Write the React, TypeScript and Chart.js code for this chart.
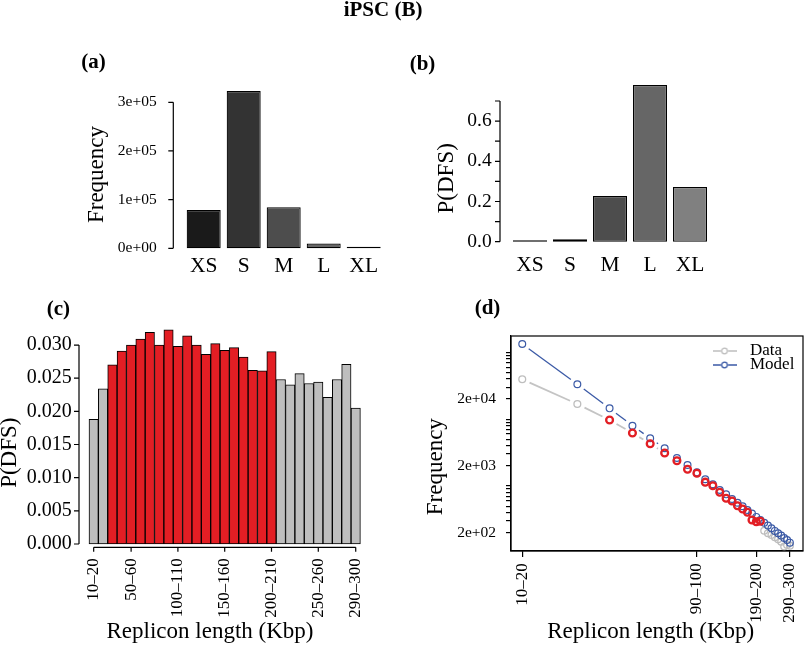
import React, { useEffect, useRef } from 'react';
import { Chart, registerables } from 'chart.js';

Chart.register(...registerables);

// ---------- data ----------
const sizeClasses = ['XS', 'S', 'M', 'L', 'XL'];
const freqBySize = [78600, 323000, 84200, 9800, 800];
const pdfsBySize = [0.002, 0.012, 0.227, 0.779, 0.272];

const freqTickValues = [0, 100000, 200000, 300000];
const freqTickLabels = ['0e+00', '1e+05', '2e+05', '3e+05'];
const pdfsTickValues = [0, 0.1, 0.2, 0.3, 0.4, 0.5, 0.6, 0.7];
const pdfsTickLabels = ['0.0', '', '0.2', '', '0.4', '', '0.6', ''];

const replBins = [
  '10–20', '20–30', '30–40', '40–50', '50–60', '60–70', '70–80', '80–90', '90–100', '100–110',
  '110–120', '120–130', '130–140', '140–150', '150–160', '160–170', '170–180', '180–190', '190–200', '200–210',
  '210–220', '220–230', '230–240', '240–250', '250–260', '260–270', '270–280', '280–290', '290–300',
];
const pdfsByBin = [
  0.0188, 0.0234, 0.0270, 0.0291, 0.0300, 0.0309, 0.0319, 0.0300, 0.0323, 0.0298,
  0.0314, 0.0300, 0.0286, 0.0302, 0.0292, 0.0296, 0.0282, 0.0262, 0.0261, 0.0290,
  0.0248, 0.0240, 0.0257, 0.0242, 0.0244, 0.0221, 0.0248, 0.0271, 0.0205,
];
const highlightFirst = '30–40';
const highlightLast = '200–210';
const binTickLabelsC = ['10–20', '50–60', '100–110', '150–160', '200–210', '250–260', '290–300'];
const pdfsBinTickValues = [0, 0.005, 0.01, 0.015, 0.02, 0.025, 0.03];

const dataFreqByBin = [
  39400, 16800, 9700, 6200, 4290, 3110, 2390, 1780, 1550, 1140,
  1010, 805, 655, 596, 507, 453, 404, 310, 292, 297,
  214, 196, 185, 171, 159, 147, 124, 131, 128,
];
const modelFreqByBin = [
  133000, 33200, 14500, 7980, 5170, 3660, 2620, 2060, 1600, 1260,
  1060, 871, 750, 640, 562, 497, 437, 388, 345, 310,
  282, 256, 233, 213, 196, 181, 167, 155, 142,
];
const binTickLabelsD = ['10–20', '90–100', '190–200', '290–300'];
const logTickValues = [200, 2000, 20000];
const logTickLabels = ['2e+02', '2e+03', '2e+04'];

// ---------- styles ----------
const SERIF = "'Liberation Serif', 'Times New Roman', Times, serif";
const sizeGrays = ['#1a1a1a', '#333333', '#4d4d4d', '#666666', '#808080'];
const RED = '#e31e24';
const GRAY = '#bebebe';
const BLUE = '#3b5aa6';
const GRAY_LINE = '#c4c4c4';

// ---------- helpers ----------
const fixW = (w: number) => (s: any) => {
  s.width = w;
  s.paddingLeft = 0; s.paddingRight = 0; s.paddingTop = 0; s.paddingBottom = 0;
};
const fixH = (h: number) => (s: any) => {
  s.height = h;
  s.paddingLeft = 0; s.paddingRight = 0; s.paddingTop = 0; s.paddingBottom = 0;
};

type TItem = { text: string; x: number; y: number; size: number; bold?: boolean; rot?: number };
const textPlugin = (items: TItem[]) => ({
  id: 'rText',
  afterDraw(chart: any) {
    const ctx = chart.ctx;
    items.forEach((t) => {
      ctx.save();
      ctx.translate(t.x, t.y);
      if (t.rot) ctx.rotate(t.rot);
      ctx.font = `${t.bold ? 'bold ' : ''}${t.size}px ${SERIF}`;
      ctx.fillStyle = '#000';
      ctx.textAlign = 'center';
      ctx.textBaseline = 'middle';
      ctx.fillText(t.text, 0, 0);
      ctx.restore();
    });
  },
});

type AxisSpec = { at: number; values: number[]; len: number };
const rAxesPlugin = (cfg: { left?: AxisSpec; bottom?: AxisSpec; box?: boolean }) => ({
  id: 'rAxes',
  afterDraw(chart: any) {
    const ctx = chart.ctx;
    ctx.save();
    ctx.strokeStyle = '#000';
    ctx.lineWidth = 1.2;
    if (cfg.left) {
      const { at, values, len } = cfg.left;
      const s = chart.scales.y;
      const ps = values.map((v) => s.getPixelForValue(v));
      ctx.beginPath();
      ctx.moveTo(at, Math.min(...ps));
      ctx.lineTo(at, Math.max(...ps));
      ps.forEach((p) => { ctx.moveTo(at, p); ctx.lineTo(at - len, p); });
      ctx.stroke();
    }
    if (cfg.bottom) {
      const { at, values, len } = cfg.bottom;
      const s = chart.scales.x;
      const ps = values.map((v) => s.getPixelForValue(v));
      ctx.beginPath();
      ctx.moveTo(Math.min(...ps), at);
      ctx.lineTo(Math.max(...ps), at);
      ps.forEach((p) => { ctx.moveTo(p, at); ctx.lineTo(p, at + len); });
      ctx.stroke();
    }
    if (cfg.box) {
      const a = chart.chartArea;
      ctx.strokeRect(a.left, a.top, a.right - a.left, a.bottom - a.top);
    }
    ctx.restore();
  },
});

const placeLegend = (left: number, top: number) => ({
  id: 'placeLegend',
  afterLayout(chart: any) {
    const lg = chart.legend;
    if (!lg) return;
    lg.left = left;
    lg.top = top;
    lg.right = left + 120;
    lg.bottom = top + 90;
  },
});

function legendSymbol(color: string) {
  const c = document.createElement('canvas');
  c.width = 24;
  c.height = 10;
  const g = c.getContext('2d')!;
  g.strokeStyle = color;
  g.lineWidth = 1.3;
  g.beginPath();
  g.moveTo(0, 5); g.lineTo(8.6, 5);
  g.moveTo(15.4, 5); g.lineTo(24, 5);
  g.stroke();
  g.beginPath();
  g.arc(12, 5, 2.8, 0, Math.PI * 2);
  g.stroke();
  return c;
}

// R type="b": line segments stop short of each point
const GAP = 8;
const rGapDash = (ctx: any) => {
  const L = Math.hypot(ctx.p1.x - ctx.p0.x, ctx.p1.y - ctx.p0.y);
  return L > 2 * GAP + 1 ? [0, GAP, L - 2 * GAP, GAP + 50] : [0, 5000];
};

const noGrid = { display: false, drawTicks: false };
const noBorder = { display: false };
const common = {
  animation: false as const,
  responsive: false,
  events: [] as any[],
};

export default function App() {
  const refA = useRef<HTMLCanvasElement>(null);
  const refB = useRef<HTMLCanvasElement>(null);
  const refC = useRef<HTMLCanvasElement>(null);
  const refD = useRef<HTMLCanvasElement>(null);

  useEffect(() => {
    Chart.defaults.font.family = SERIF;
    Chart.defaults.color = '#000';
    const charts: Chart[] = [];

    // ---- (a) ----
    charts.push(new Chart(refA.current!, {
      type: 'bar',
      data: {
        labels: sizeClasses,
        datasets: [{
          data: freqBySize, backgroundColor: sizeGrays, borderColor: '#000', borderWidth: 1.2,
          borderSkipped: false, barPercentage: 0.85, categoryPercentage: 1, minBarLength: 1.5, clip: false,
        } as any],
      },
      options: {
        ...common,
        layout: { padding: { left: 83.7, right: 421.3, top: 87.7, bottom: 358.7 }, autoPadding: false } as any,
        plugins: { legend: { display: false }, tooltip: { enabled: false } },
        scales: {
          x: {
            type: 'category', offset: true, grid: noGrid, border: noBorder,
            ticks: { font: { size: 21.5 }, padding: 5.2, maxRotation: 0, autoSkip: false },
            afterFit: fixH(40),
          } as any,
          y: {
            min: 0, max: 330000, grid: noGrid, border: noBorder,
            afterBuildTicks: (s: any) => { s.ticks = freqTickValues.map((v) => ({ value: v })); },
            ticks: {
              font: { size: 15.5 }, padding: 27, autoSkip: false,
              callback: (v: any) => freqTickLabels[freqTickValues.indexOf(Number(v))] ?? '',
            },
            afterFit: fixW(100),
          } as any,
        },
      },
      plugins: [
        rAxesPlugin({ left: { at: 173.3, values: freqTickValues, len: 5 } }),
        textPlugin([
          { text: 'iPSC (B)', x: 383, y: 10.6, size: 21, bold: true },
          { text: '(a)', x: 93.5, y: 62.8, size: 21, bold: true },
          { text: 'Frequency', x: 97.4, y: 174.5, size: 23, rot: -Math.PI / 2 },
        ]),
      ],
    }));

    // ---- (b) ----
    charts.push(new Chart(refB.current!, {
      type: 'bar',
      data: {
        labels: sizeClasses,
        datasets: [{
          data: pdfsBySize, backgroundColor: sizeGrays, borderColor: '#000', borderWidth: 1.2,
          borderSkipped: false, barPercentage: 0.85, categoryPercentage: 1, minBarLength: 1.5, clip: false,
        } as any],
      },
      options: {
        ...common,
        layout: { padding: { left: 430, right: 95, top: 80.9, bottom: 365.3 }, autoPadding: false } as any,
        plugins: { legend: { display: false }, tooltip: { enabled: false } },
        scales: {
          x: {
            type: 'category', offset: true, grid: noGrid, border: noBorder,
            ticks: { font: { size: 21.5 }, padding: 10.9, maxRotation: 0, autoSkip: false },
            afterFit: fixH(40),
          } as any,
          y: {
            min: 0, max: 0.8, grid: noGrid, border: noBorder,
            afterBuildTicks: (s: any) => { s.ticks = pdfsTickValues.map((v) => ({ value: v })); },
            ticks: {
              font: { size: 19.5 }, padding: 18.3, autoSkip: false,
              callback: (_v: any, i: number) => pdfsTickLabels[i] ?? '',
            },
            afterFit: fixW(80),
          } as any,
        },
      },
      plugins: [
        rAxesPlugin({ left: { at: 500, values: pdfsTickValues, len: 5 } }),
        textPlugin([
          { text: '(b)', x: 422.5, y: 64.2, size: 21, bold: true },
          { text: 'P(DFS)', x: 446.5, y: 178.3, size: 23, rot: -Math.PI / 2 },
        ]),
      ],
    }));

    // ---- (c) ----
    const hiA = replBins.indexOf(highlightFirst);
    const hiB = replBins.indexOf(highlightLast);
    const tickIdxC = binTickLabelsC.map((l) => replBins.indexOf(l));
    charts.push(new Chart(refC.current!, {
      type: 'bar',
      data: {
        labels: replBins,
        datasets: [{
          data: pdfsByBin,
          backgroundColor: replBins.map((_, i) => (i >= hiA && i <= hiB ? RED : GRAY)),
          borderColor: '#000', borderWidth: 1, borderSkipped: false,
          barPercentage: 1, categoryPercentage: 1, clip: false,
        } as any],
      },
      options: {
        ...common,
        layout: { padding: { left: 19, right: 444.6, top: 318.5, bottom: 13 }, autoPadding: false } as any,
        plugins: { legend: { display: false }, tooltip: { enabled: false } },
        scales: {
          x: {
            type: 'category', offset: true, grid: noGrid, border: noBorder,
            ticks: {
              font: { size: 17 }, padding: 14.3, minRotation: 90, maxRotation: 90, autoSkip: false,
              callback: (_v: any, i: number) => (tickIdxC.includes(i) ? replBins[i] : ''),
            },
            afterFit: fixH(90),
          } as any,
          y: {
            min: 0, max: 0.034, grid: noGrid, border: noBorder,
            afterBuildTicks: (s: any) => { s.ticks = pdfsBinTickValues.map((v) => ({ value: v })); },
            ticks: {
              font: { size: 20 }, padding: 17.3, autoSkip: false,
              callback: (v: any) => Number(v).toFixed(3),
            },
            afterFit: fixW(70),
          } as any,
        },
      },
      plugins: [
        rAxesPlugin({
          left: { at: 79, values: pdfsBinTickValues, len: 5 },
          bottom: { at: 547.3, values: tickIdxC, len: 4.4 },
        }),
        textPlugin([
          { text: '(c)', x: 58.3, y: 309.6, size: 21, bold: true },
          { text: 'P(DFS)', x: 9.9, y: 452.7, size: 23, rot: -Math.PI / 2 },
          { text: 'Replicon length (Kbp)', x: 210, y: 632.2, size: 23 },
        ]),
      ],
    }));

    // ---- (d) ----
    const dataPts = dataFreqByBin.map((y, i) => ({ x: i + 1, y }));
    const modelPts = modelFreqByBin.map((y, i) => ({ x: i + 1, y }));
    const redPts = dataPts.slice(hiA, hiB + 1);
    const tickIdxD = binTickLabelsD.map((l) => replBins.indexOf(l) + 1);
    const symGray = legendSymbol(GRAY);
    const symBlue = legendSymbol(BLUE);
    const yMinD = 106.5;
    const yMaxD = 175200;

    charts.push(new Chart(refD.current!, {
      type: 'line',
      data: {
        datasets: [
          {
            label: 'DFS', data: redPts, order: 0, showLine: false,
            pointRadius: 3.4, pointBorderWidth: 2.3, pointBorderColor: RED,
            pointBackgroundColor: 'rgba(0,0,0,0)', clip: false,
          } as any,
          {
            label: 'Model', data: modelPts, order: 1, borderColor: BLUE, borderWidth: 1.3,
            pointRadius: 3.4, pointBorderWidth: 1.2, pointBorderColor: BLUE, pointBackgroundColor: 'rgba(0,0,0,0)',
            segment: { borderDash: rGapDash }, clip: false,
          } as any,
          {
            label: 'Data', data: dataPts, order: 2, borderColor: GRAY_LINE, borderWidth: 1.8,
            pointRadius: 3.4, pointBorderWidth: 1.3, pointBorderColor: GRAY, pointBackgroundColor: 'rgba(0,0,0,0)',
            segment: { borderDash: rGapDash }, clip: false,
          } as any,
        ],
      },
      options: {
        ...common,
        layout: { padding: { left: 431, right: 2, top: 336, bottom: 6 }, autoPadding: false } as any,
        plugins: {
          tooltip: { enabled: false },
          legend: {
            display: true,
            position: 'chartArea',
            align: 'start',
            title: { display: true, text: '', font: { size: 10, lineHeight: 1 }, padding: 0 },
            labels: {
              usePointStyle: true,
              pointStyleWidth: 34,
              padding: -3,
              color: '#000',
              font: { size: 17 },
              generateLabels: () => [
                { text: 'Data', pointStyle: symGray, fillStyle: '#fff', strokeStyle: GRAY, lineWidth: 0, hidden: false, datasetIndex: 2, fontColor: '#000' },
                { text: 'Model', pointStyle: symBlue, fillStyle: '#fff', strokeStyle: BLUE, lineWidth: 0, hidden: false, datasetIndex: 1, fontColor: '#000' },
              ] as any,
            },
          } as any,
        },
        scales: {
          x: {
            type: 'logarithmic', min: 0.868, max: 34.2,
            grid: { display: true, drawOnChartArea: false, drawTicks: true, tickLength: 6, color: '#000', lineWidth: 1.2 },
            border: { display: true, color: '#000', width: 1.2 },
            afterBuildTicks: (s: any) => { s.ticks = tickIdxD.map((v) => ({ value: v })); },
            ticks: {
              font: { size: 17 }, padding: 6.3, minRotation: 90, maxRotation: 90, autoSkip: false,
              callback: (v: any) => replBins[Number(v) - 1] ?? '',
            },
            afterFit: fixH(90),
          } as any,
          y: {
            type: 'logarithmic', min: yMinD, max: yMaxD,
            grid: { display: true, drawOnChartArea: false, drawTicks: true, tickLength: 5, color: '#000', lineWidth: 1.2 },
            border: { display: true, color: '#000', width: 1.2 },
            afterBuildTicks: (s: any) => {
              const t: { value: number }[] = [];
              for (let e = 2; e <= 5; e++) {
                for (let m = 1; m <= 9; m++) {
                  const v = m * Math.pow(10, e);
                  if (v >= yMinD && v <= yMaxD) t.push({ value: v });
                }
              }
              s.ticks = t;
            },
            ticks: {
              font: { size: 15.5 }, padding: 10, autoSkip: false,
              callback: (v: any) => logTickLabels[logTickValues.indexOf(Number(v))] ?? '',
            },
            afterFit: fixW(80),
          } as any,
        },
      },
      plugins: [
        placeLegend(710.5, 335.5),
        rAxesPlugin({ box: true }),
        textPlugin([
          { text: '(d)', x: 487.5, y: 308.4, size: 21, bold: true },
          { text: 'Frequency', x: 435.7, y: 466.7, size: 23, rot: -Math.PI / 2 },
          { text: 'Replicon length (Kbp)', x: 650.7, y: 631.5, size: 23 },
        ]),
      ],
    }));

    return () => charts.forEach((c) => c.destroy());
  }, []);

  const cs: React.CSSProperties = { position: 'absolute', left: 0, top: 0 };
  return (
    <div style={{ position: 'fixed', left: 0, top: 0, width: 805, height: 647, background: '#fff', overflow: 'hidden' }}>
      <canvas ref={refA} width={805} height={647} style={cs} />
      <canvas ref={refB} width={805} height={647} style={cs} />
      <canvas ref={refC} width={805} height={647} style={cs} />
      <canvas ref={refD} width={805} height={647} style={cs} />
    </div>
  );
}
